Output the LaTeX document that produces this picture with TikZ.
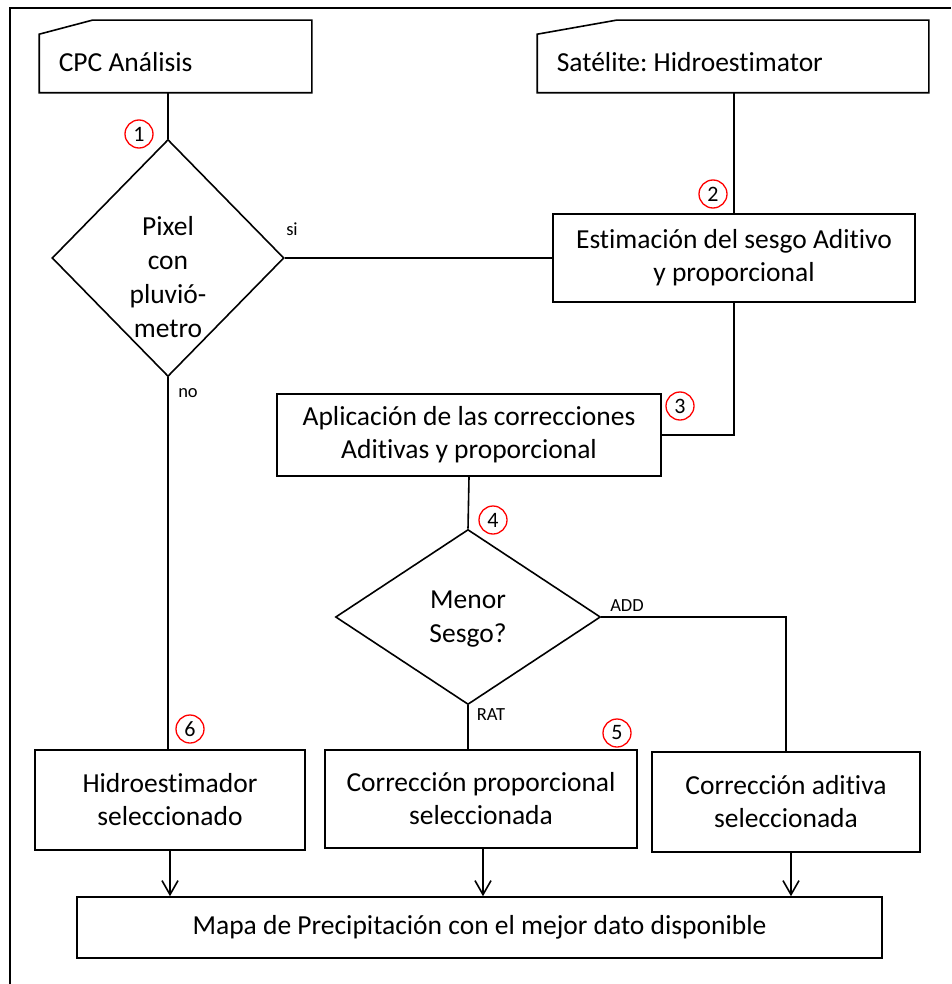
\documentclass[tikz,border=0pt]{standalone}
\usepackage{fontspec}
\setmainfont{Carlito}[Ligatures=NoCommon]
\usetikzlibrary{arrows.meta,shapes.geometric,calc}
\frenchspacing

\begin{document}
\begin{tikzpicture}[x=1pt, y=-1pt, line width=1.6pt,
	>={Straight Barb[length=14pt,width=16pt]},
	box/.style={draw, rectangle, align=center, inner sep=0pt, font=\fontsize{27.5}{33}\selectfont},
	srcframe/.style={rectangle, inner sep=0pt},
	srctext/.style={anchor=west, inner sep=0pt, font=\fontsize{27.5}{33}\selectfont},
	decision/.style={draw, diamond, inner sep=0pt},
	dectext/.style={align=center, inner sep=0pt, font=\fontsize{27.5}{34}\selectfont},
	stepno/.style={circle, draw=red, line width=1.3pt, minimum size=28pt, inner sep=0pt, font=\fontsize{22}{22}\selectfont},
	tag/.style={inner sep=0pt, font=\fontsize{18.5}{18.5}\selectfont}]

	\useasboundingbox (0,0) rectangle (951,984);
	% Frame
	\draw [line width=1.8pt] (10,984) -- (10,8) -- (951,8);

	% Sources
	\node [srcframe, minimum width=271pt, minimum height=71pt] (cpc) at (175.5,56.5) {};
	\node [srcframe, minimum width=390pt, minimum height=71pt] (sat) at (733,56.5) {};
	\draw (cpc.south west) -- ($(cpc.north west)+(0,-14pt)$) -- ($(cpc.north west)+(53pt,0)$)
		-- (cpc.north east) -- (cpc.south east) -- cycle;
	\draw (sat.south west) -- ($(sat.north west)+(0,-14pt)$) -- ($(sat.north west)+(79pt,0)$)
		-- (sat.north east) -- (sat.south east) -- cycle;
	\node [srctext] (cpctxt) at (58,62) {CPC Análisis};
	\node [srctext] (sattxt) at (556,62) {Satélite: Hidroestimator};

	% Decisions
	\node [decision, minimum width=232pt, minimum height=237pt] (pix) at (168,258) {};
	\node [dectext] (pixtxt) at (168,277) {Pixel\\con\\pluvió-\\metro};
	\node [decision, minimum width=265pt, minimum height=175pt] (men) at (468,617) {};
	\node [dectext] (mentxt) at (468,619) {Menor\\Sesgo?};

	% Boxes
	\node [box, minimum width=362pt, minimum height=88pt] (est) at (734,258) {Estimación del sesgo Aditivo\\y proporcional};
	\node [box, minimum width=384pt, minimum height=82pt] (apl) at (469,435) {Aplicación de las correcciones\\Aditivas y proporcional};
	\node [box, minimum width=270pt, minimum height=100pt] (hid) at (170,800) {Hidroestimador\\seleccionado};
	\node [box, minimum width=312pt, minimum height=98pt] (prop) at (481,799) {Corrección proporcional\\seleccionada};
	\node [box, minimum width=268pt, minimum height=100pt] (adit) at (786,802) {Corrección aditiva\\seleccionada};
	\node [box, minimum width=805pt, minimum height=61pt] (mapa) at (479.5,927.5) {Mapa de Precipitación con el mejor dato disponible};

	% Step numbers
	\node [stepno] (n1) at (139,134) {1};
	\node [stepno] (n2) at (713,194) {2};
	\node [stepno] (n3) at (680,406) {3};
	\node [stepno] (n4) at (493,520) {4};
	\node [stepno] (n5) at (617,733) {5};
	\node [stepno] (n6) at (190,729) {6};

	% Branch labels
	\node [tag] (si) at (292,229) {si};
	\node [tag] (no) at (188,393) {no};
	\node [tag] (add) at (627,606) {ADD};
	\node [tag] (rat) at (491,715) {RAT};

	% Paths
	\draw (pix.north |- cpc.south) -- (pix.north);
	\draw (est.north |- sat.south) -- (est.north);
	\draw (pix.east) -- (est.west);
	\draw (est.south) |- (apl.east);
	\draw (apl.south) -- (men.north);
	\draw (men.east) -| (adit.north);
	\draw (men.south) -- (men.south |- prop.north);
	\draw (pix.south) -- (pix.south |- hid.north);
	\draw [->] (hid.south) -- (hid.south |- mapa.north);
	\draw [->] ($(prop.south)+(2pt,0)$) -- ($(prop.south |- mapa.north)+(2pt,0)$);
	\draw [->] ($(adit.south)+(5pt,0)$) -- ($(adit.south |- mapa.north)+(5pt,0)$);
\end{tikzpicture}
\end{document}
